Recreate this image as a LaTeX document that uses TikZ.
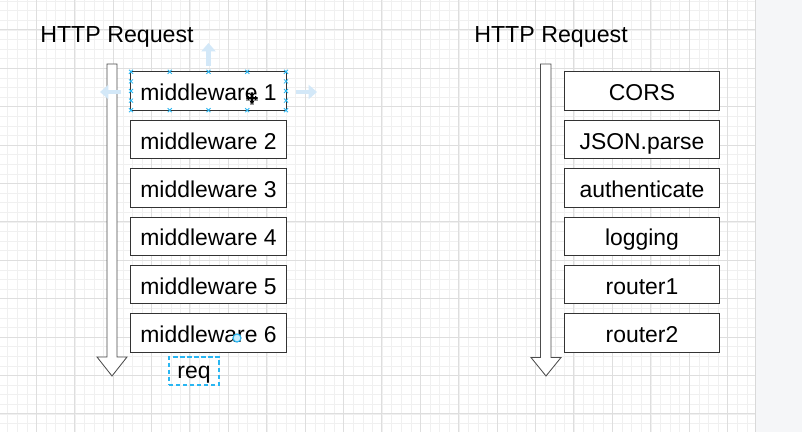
\documentclass[tikz,border=0pt]{standalone}
\usepackage{fontspec}
\setmainfont{Liberation Sans}
\usetikzlibrary{arrows.meta}
\definecolor{handle}{HTML}{29B6F2}
\definecolor{hover}{HTML}{D3E8F8}
\definecolor{panel}{HTML}{F5F6F8}

\begin{document}
\begin{tikzpicture}[x=0.025cm, y=-0.025cm,
    box/.style={draw=black!80, fill=white, line width=0.7pt, inner sep=0pt,
      minimum width=3.875cm, minimum height=0.96cm, text height=13.8pt, text depth=0pt,
      font=\fontsize{16.3}{19}\selectfont},
    title/.style={anchor=base west, inner sep=0pt, font=\fontsize{16.5}{19}\selectfont},
    flow/.style={draw=black!70, fill=white, line width=0.6pt, line join=miter},
    hdl/.style={draw=handle, line width=0.6pt},
    hint/.style={hover, line width=3.2pt, -{Triangle[length=6pt, width=10pt]}}]
    \useasboundingbox (0,0) rectangle (802,432);
    \fill[white] (0,0) rectangle (802,432);
    \scope
      \clip (0,0) rectangle (755.7,432);
      \foreach \x in {7.7,17.3,...,755} \draw[black!6, line width=0.4pt] (\x,0) -- (\x,432);
      \foreach \y in {1,10.6,...,432} \draw[black!6, line width=0.4pt] (0,\y) -- (755.7,\y);
      \foreach \x in {36.1,74.5,...,755} \draw[black!13, line width=0.5pt] (\x,0) -- (\x,432);
      \foreach \y in {29.8,68.2,...,432} \draw[black!13, line width=0.5pt] (0,\y) -- (755.7,\y);
    \endscope
    \fill[panel] (755.7,0) rectangle (802,432);
    \draw[black!15, line width=0.8pt] (755.7,0) -- (755.7,432);

    \node[title] (reqleft) at (40,43) {HTTP Request};
    \node[title] (reqright) at (474,43) {HTTP Request};

    \draw[flow] (107,64) -- (117,64) -- (117,357) -- (127,357) -- (112,376)
                -- (97,357) -- (107,357) -- cycle;
    \draw[flow] (540.5,64) -- (551,64) -- (551,357.5) -- (561,357.5) -- (546,376)
                -- (531,357.5) -- (540.5,357.5) -- cycle;

    \foreach \i in {1,...,6}
      \node[box] (mw\i) at (208.5, {91+48.4*(\i-1)}) {middleware \i};
    \foreach \name/\txt [count=\i] in {cors/CORS, json/JSON.parse, auth/authenticate,
        logging/logging, router1/router1, router2/router2}
      \node[box] (\name) at (642, {91+48.4*(\i-1)}) {\txt};

    % selection on middleware 1
    \foreach \x in {131,169.75,208.5,247.25,286}
      \foreach \y in {71.8,110.2}
        \draw[hdl] (\x-2,\y-2) -- (\x+2,\y+2) (\x-2,\y+2) -- (\x+2,\y-2);
    \foreach \x in {131,286}
      \foreach \y in {81.4,91,100.6}
        \draw[hdl] (\x-2,\y-2) -- (\x+2,\y+2) (\x-2,\y+2) -- (\x+2,\y-2);
    \draw[hint] (208.5,66) -- (208.5,43);
    \draw[hint] (121,92) -- (100,92);
    \draw[hint] (296,92) -- (317,92);
    \draw[black!40, line width=2.2pt] (246,99) -- (258,99) (252,93) -- (252,105);
    \draw[black, line width=0.9pt, -{Triangle[length=2pt, width=3pt]}] (252,98) -- (252,92);
    \draw[black, line width=0.9pt, -{Triangle[length=2pt, width=3pt]}] (252,98) -- (252,104);
    \draw[black, line width=0.9pt, -{Triangle[length=2pt, width=3pt]}] (252,98) -- (246,98);
    \draw[black, line width=0.9pt, -{Triangle[length=2pt, width=3pt]}] (252,98) -- (258,98);
    \draw[handle, fill=handle!25, line width=0.8pt] (237,338) circle (4);

    \node[draw=handle, densely dashed, line width=0.8pt, inner sep=0pt, minimum width=1.25cm,
          minimum height=0.7cm, text height=11pt, text depth=0pt,
          font=\fontsize{16.3}{19}\selectfont] (req) at (194,371) {req};
\end{tikzpicture}
\end{document}
